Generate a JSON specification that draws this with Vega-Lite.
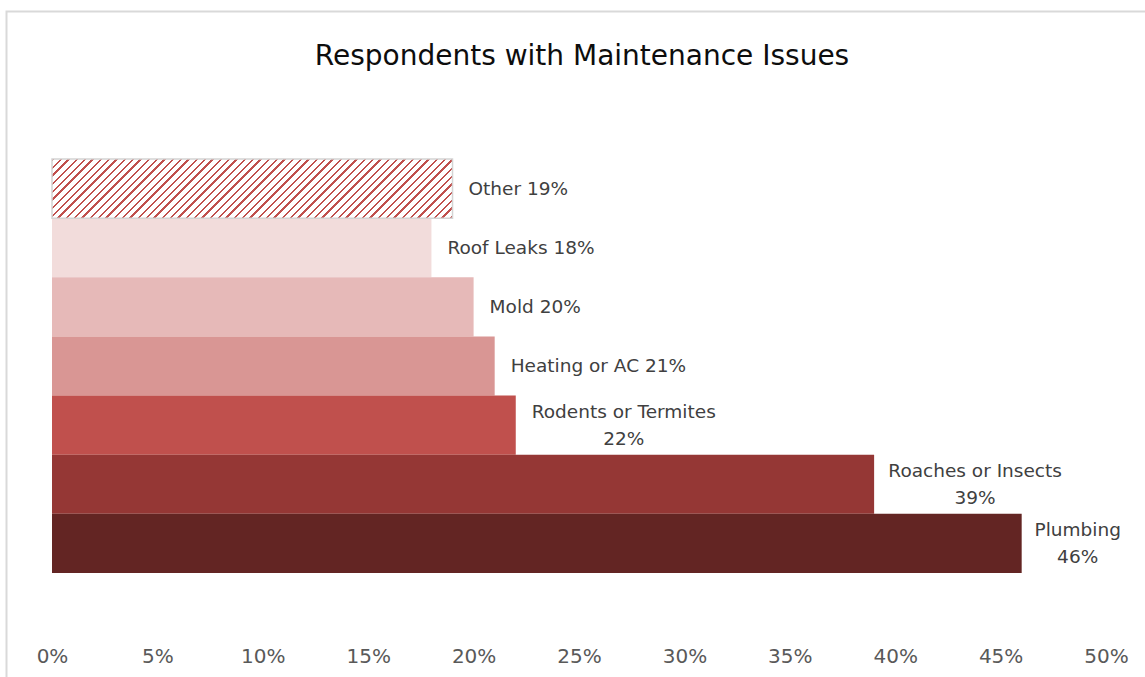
{
  "$schema": "https://vega.github.io/schema/vega-lite/v6.json",
  "width": 1140,
  "height": 667,
  "autosize": {"type": "none"},
  "padding": {"left": 6.5, "top": 11.5, "right": 0, "bottom": 0},
  "background": "#ffffff",
  "config": {"view": {"stroke": "#d9d9d9", "strokeWidth": 2}, "font": "DejaVu Sans"},
  "title": {
    "text": "Respondents with Maintenance Issues",
    "fontSize": 28,
    "font": "DejaVu Sans",
    "fontWeight": "normal",
    "color": "#0d0d0d",
    "anchor": "middle",
    "frame": "group",
    "baseline": "alphabetic",
    "offset": -81.8,
    "dx": 5.5
  },
  "data": {
    "values": [
      {"issue": "Other", "pct": 0.19, "label": "Other 19%"},
      {"issue": "Roof Leaks", "pct": 0.18, "label": "Roof Leaks 18%"},
      {"issue": "Mold", "pct": 0.20, "label": "Mold 20%"},
      {"issue": "Heating or AC", "pct": 0.21, "label": "Heating or AC 21%"},
      {"issue": "Rodents or Termites", "pct": 0.22, "label": "Rodents or Termites\n22%"},
      {"issue": "Roaches or Insects", "pct": 0.39, "label": "Roaches or Insects\n39%"},
      {"issue": "Plumbing", "pct": 0.46, "label": "Plumbing\n46%"}
    ]
  },
  "encoding": {
    "y": {
      "field": "issue",
      "type": "nominal",
      "sort": null,
      "axis": null,
      "scale": {"range": [147.5, 561.5], "paddingInner": 0, "paddingOuter": 0}
    },
    "x": {
      "field": "pct",
      "type": "quantitative",
      "scale": {"domain": [0, 0.5], "range": [45.5, 1099.5]},
      "axis": {
        "orient": "bottom",
        "values": [0, 0.05, 0.1, 0.15, 0.2, 0.25, 0.3, 0.35, 0.4, 0.45, 0.5],
        "format": ".0%",
        "domain": false,
        "ticks": false,
        "grid": false,
        "labelFontSize": 20,
        "labelColor": "#595959",
        "labelFont": "DejaVu Sans",
        "labelPadding": 0,
        "labelBaseline": "middle",
        "labelFlush": false,
        "labelOverlap": false,
        "offset": -22.5,
        "title": null
      }
    }
  },
  "layer": [
    {
      "mark": {"type": "bar"},
      "encoding": {
        "color": {
          "field": "issue",
          "type": "nominal",
          "legend": null,
          "scale": {
            "domain": ["Other", "Roof Leaks", "Mold", "Heating or AC", "Rodents or Termites", "Roaches or Insects", "Plumbing"],
            "range": ["#ffffff", "#f2dcdb", "#e6b9b8", "#d99694", "#c0504d", "#953735", "#632523"]
          }
        }
      }
    },
    {
      "transform": [{"filter": "datum.issue === 'Other'"}],
      "mark": {
        "type": "bar",
        "stroke": "#d4d4d4",
        "strokeWidth": 1.5,
        "fill": {
          "gradient": "linear",
          "x1": 0, "y1": 0, "x2": 1.1729, "y2": 0.1732,
          "stops": [
            {"offset":0,"color":"#c0504d"},{"offset":0.005,"color":"#c0504d"},{"offset":0.005,"color":"#ffffff"},{"offset":0.0167,"color":"#ffffff"},
            {"offset":0.0167,"color":"#c0504d"},{"offset":0.0217,"color":"#c0504d"},{"offset":0.0217,"color":"#ffffff"},{"offset":0.0333,"color":"#ffffff"},
            {"offset":0.0333,"color":"#c0504d"},{"offset":0.0383,"color":"#c0504d"},{"offset":0.0383,"color":"#ffffff"},{"offset":0.05,"color":"#ffffff"},
            {"offset":0.05,"color":"#c0504d"},{"offset":0.055,"color":"#c0504d"},{"offset":0.055,"color":"#ffffff"},{"offset":0.0667,"color":"#ffffff"},
            {"offset":0.0667,"color":"#c0504d"},{"offset":0.0717,"color":"#c0504d"},{"offset":0.0717,"color":"#ffffff"},{"offset":0.0833,"color":"#ffffff"},
            {"offset":0.0833,"color":"#c0504d"},{"offset":0.0883,"color":"#c0504d"},{"offset":0.0883,"color":"#ffffff"},{"offset":0.1,"color":"#ffffff"},
            {"offset":0.1,"color":"#c0504d"},{"offset":0.105,"color":"#c0504d"},{"offset":0.105,"color":"#ffffff"},{"offset":0.1167,"color":"#ffffff"},
            {"offset":0.1167,"color":"#c0504d"},{"offset":0.1217,"color":"#c0504d"},{"offset":0.1217,"color":"#ffffff"},{"offset":0.1333,"color":"#ffffff"},
            {"offset":0.1333,"color":"#c0504d"},{"offset":0.1383,"color":"#c0504d"},{"offset":0.1383,"color":"#ffffff"},{"offset":0.15,"color":"#ffffff"},
            {"offset":0.15,"color":"#c0504d"},{"offset":0.155,"color":"#c0504d"},{"offset":0.155,"color":"#ffffff"},{"offset":0.1667,"color":"#ffffff"},
            {"offset":0.1667,"color":"#c0504d"},{"offset":0.1717,"color":"#c0504d"},{"offset":0.1717,"color":"#ffffff"},{"offset":0.1833,"color":"#ffffff"},
            {"offset":0.1833,"color":"#c0504d"},{"offset":0.1883,"color":"#c0504d"},{"offset":0.1883,"color":"#ffffff"},{"offset":0.2,"color":"#ffffff"},
            {"offset":0.2,"color":"#c0504d"},{"offset":0.205,"color":"#c0504d"},{"offset":0.205,"color":"#ffffff"},{"offset":0.2167,"color":"#ffffff"},
            {"offset":0.2167,"color":"#c0504d"},{"offset":0.2217,"color":"#c0504d"},{"offset":0.2217,"color":"#ffffff"},{"offset":0.2333,"color":"#ffffff"},
            {"offset":0.2333,"color":"#c0504d"},{"offset":0.2383,"color":"#c0504d"},{"offset":0.2383,"color":"#ffffff"},{"offset":0.25,"color":"#ffffff"},
            {"offset":0.25,"color":"#c0504d"},{"offset":0.255,"color":"#c0504d"},{"offset":0.255,"color":"#ffffff"},{"offset":0.2667,"color":"#ffffff"},
            {"offset":0.2667,"color":"#c0504d"},{"offset":0.2717,"color":"#c0504d"},{"offset":0.2717,"color":"#ffffff"},{"offset":0.2833,"color":"#ffffff"},
            {"offset":0.2833,"color":"#c0504d"},{"offset":0.2883,"color":"#c0504d"},{"offset":0.2883,"color":"#ffffff"},{"offset":0.3,"color":"#ffffff"},
            {"offset":0.3,"color":"#c0504d"},{"offset":0.305,"color":"#c0504d"},{"offset":0.305,"color":"#ffffff"},{"offset":0.3167,"color":"#ffffff"},
            {"offset":0.3167,"color":"#c0504d"},{"offset":0.3217,"color":"#c0504d"},{"offset":0.3217,"color":"#ffffff"},{"offset":0.3333,"color":"#ffffff"},
            {"offset":0.3333,"color":"#c0504d"},{"offset":0.3383,"color":"#c0504d"},{"offset":0.3383,"color":"#ffffff"},{"offset":0.35,"color":"#ffffff"},
            {"offset":0.35,"color":"#c0504d"},{"offset":0.355,"color":"#c0504d"},{"offset":0.355,"color":"#ffffff"},{"offset":0.3667,"color":"#ffffff"},
            {"offset":0.3667,"color":"#c0504d"},{"offset":0.3717,"color":"#c0504d"},{"offset":0.3717,"color":"#ffffff"},{"offset":0.3833,"color":"#ffffff"},
            {"offset":0.3833,"color":"#c0504d"},{"offset":0.3883,"color":"#c0504d"},{"offset":0.3883,"color":"#ffffff"},{"offset":0.4,"color":"#ffffff"},
            {"offset":0.4,"color":"#c0504d"},{"offset":0.405,"color":"#c0504d"},{"offset":0.405,"color":"#ffffff"},{"offset":0.4167,"color":"#ffffff"},
            {"offset":0.4167,"color":"#c0504d"},{"offset":0.4217,"color":"#c0504d"},{"offset":0.4217,"color":"#ffffff"},{"offset":0.4333,"color":"#ffffff"},
            {"offset":0.4333,"color":"#c0504d"},{"offset":0.4383,"color":"#c0504d"},{"offset":0.4383,"color":"#ffffff"},{"offset":0.45,"color":"#ffffff"},
            {"offset":0.45,"color":"#c0504d"},{"offset":0.455,"color":"#c0504d"},{"offset":0.455,"color":"#ffffff"},{"offset":0.4667,"color":"#ffffff"},
            {"offset":0.4667,"color":"#c0504d"},{"offset":0.4717,"color":"#c0504d"},{"offset":0.4717,"color":"#ffffff"},{"offset":0.4833,"color":"#ffffff"},
            {"offset":0.4833,"color":"#c0504d"},{"offset":0.4883,"color":"#c0504d"},{"offset":0.4883,"color":"#ffffff"},{"offset":0.5,"color":"#ffffff"},
            {"offset":0.5,"color":"#c0504d"},{"offset":0.505,"color":"#c0504d"},{"offset":0.505,"color":"#ffffff"},{"offset":0.5167,"color":"#ffffff"},
            {"offset":0.5167,"color":"#c0504d"},{"offset":0.5217,"color":"#c0504d"},{"offset":0.5217,"color":"#ffffff"},{"offset":0.5333,"color":"#ffffff"},
            {"offset":0.5333,"color":"#c0504d"},{"offset":0.5383,"color":"#c0504d"},{"offset":0.5383,"color":"#ffffff"},{"offset":0.55,"color":"#ffffff"},
            {"offset":0.55,"color":"#c0504d"},{"offset":0.555,"color":"#c0504d"},{"offset":0.555,"color":"#ffffff"},{"offset":0.5667,"color":"#ffffff"},
            {"offset":0.5667,"color":"#c0504d"},{"offset":0.5717,"color":"#c0504d"},{"offset":0.5717,"color":"#ffffff"},{"offset":0.5833,"color":"#ffffff"},
            {"offset":0.5833,"color":"#c0504d"},{"offset":0.5883,"color":"#c0504d"},{"offset":0.5883,"color":"#ffffff"},{"offset":0.6,"color":"#ffffff"},
            {"offset":0.6,"color":"#c0504d"},{"offset":0.605,"color":"#c0504d"},{"offset":0.605,"color":"#ffffff"},{"offset":0.6167,"color":"#ffffff"},
            {"offset":0.6167,"color":"#c0504d"},{"offset":0.6217,"color":"#c0504d"},{"offset":0.6217,"color":"#ffffff"},{"offset":0.6333,"color":"#ffffff"},
            {"offset":0.6333,"color":"#c0504d"},{"offset":0.6383,"color":"#c0504d"},{"offset":0.6383,"color":"#ffffff"},{"offset":0.65,"color":"#ffffff"},
            {"offset":0.65,"color":"#c0504d"},{"offset":0.655,"color":"#c0504d"},{"offset":0.655,"color":"#ffffff"},{"offset":0.6667,"color":"#ffffff"},
            {"offset":0.6667,"color":"#c0504d"},{"offset":0.6717,"color":"#c0504d"},{"offset":0.6717,"color":"#ffffff"},{"offset":0.6833,"color":"#ffffff"},
            {"offset":0.6833,"color":"#c0504d"},{"offset":0.6883,"color":"#c0504d"},{"offset":0.6883,"color":"#ffffff"},{"offset":0.7,"color":"#ffffff"},
            {"offset":0.7,"color":"#c0504d"},{"offset":0.705,"color":"#c0504d"},{"offset":0.705,"color":"#ffffff"},{"offset":0.7167,"color":"#ffffff"},
            {"offset":0.7167,"color":"#c0504d"},{"offset":0.7217,"color":"#c0504d"},{"offset":0.7217,"color":"#ffffff"},{"offset":0.7333,"color":"#ffffff"},
            {"offset":0.7333,"color":"#c0504d"},{"offset":0.7383,"color":"#c0504d"},{"offset":0.7383,"color":"#ffffff"},{"offset":0.75,"color":"#ffffff"},
            {"offset":0.75,"color":"#c0504d"},{"offset":0.755,"color":"#c0504d"},{"offset":0.755,"color":"#ffffff"},{"offset":0.7667,"color":"#ffffff"},
            {"offset":0.7667,"color":"#c0504d"},{"offset":0.7717,"color":"#c0504d"},{"offset":0.7717,"color":"#ffffff"},{"offset":0.7833,"color":"#ffffff"},
            {"offset":0.7833,"color":"#c0504d"},{"offset":0.7883,"color":"#c0504d"},{"offset":0.7883,"color":"#ffffff"},{"offset":0.8,"color":"#ffffff"},
            {"offset":0.8,"color":"#c0504d"},{"offset":0.805,"color":"#c0504d"},{"offset":0.805,"color":"#ffffff"},{"offset":0.8167,"color":"#ffffff"},
            {"offset":0.8167,"color":"#c0504d"},{"offset":0.8217,"color":"#c0504d"},{"offset":0.8217,"color":"#ffffff"},{"offset":0.8333,"color":"#ffffff"},
            {"offset":0.8333,"color":"#c0504d"},{"offset":0.8383,"color":"#c0504d"},{"offset":0.8383,"color":"#ffffff"},{"offset":0.85,"color":"#ffffff"},
            {"offset":0.85,"color":"#c0504d"},{"offset":0.855,"color":"#c0504d"},{"offset":0.855,"color":"#ffffff"},{"offset":0.8667,"color":"#ffffff"},
            {"offset":0.8667,"color":"#c0504d"},{"offset":0.8717,"color":"#c0504d"},{"offset":0.8717,"color":"#ffffff"},{"offset":0.8833,"color":"#ffffff"},
            {"offset":0.8833,"color":"#c0504d"},{"offset":0.8883,"color":"#c0504d"},{"offset":0.8883,"color":"#ffffff"},{"offset":0.9,"color":"#ffffff"},
            {"offset":0.9,"color":"#c0504d"},{"offset":0.905,"color":"#c0504d"},{"offset":0.905,"color":"#ffffff"},{"offset":0.9167,"color":"#ffffff"},
            {"offset":0.9167,"color":"#c0504d"},{"offset":0.9217,"color":"#c0504d"},{"offset":0.9217,"color":"#ffffff"},{"offset":0.9333,"color":"#ffffff"},
            {"offset":0.9333,"color":"#c0504d"},{"offset":0.9383,"color":"#c0504d"},{"offset":0.9383,"color":"#ffffff"},{"offset":0.95,"color":"#ffffff"},
            {"offset":0.95,"color":"#c0504d"},{"offset":0.955,"color":"#c0504d"},{"offset":0.955,"color":"#ffffff"},{"offset":0.9667,"color":"#ffffff"},
            {"offset":0.9667,"color":"#c0504d"},{"offset":0.9717,"color":"#c0504d"},{"offset":0.9717,"color":"#ffffff"},{"offset":0.9833,"color":"#ffffff"},
            {"offset":0.9833,"color":"#c0504d"},{"offset":0.9883,"color":"#c0504d"},{"offset":0.9883,"color":"#ffffff"},{"offset":1,"color":"#ffffff"}
          ]
        }
      }
    },
    {
      "transform": [{"filter": {"field": "issue", "oneOf": ["Other", "Roof Leaks", "Mold", "Heating or AC"]}}],
      "mark": {"type": "text", "align": "left", "baseline": "middle", "dx": 16, "fontSize": 18.5, "color": "#404040", "font": "DejaVu Sans"},
      "encoding": {"text": {"field": "label", "type": "nominal"}}
    },
    {
      "transform": [{"filter": "datum.issue === 'Rodents or Termites'"}],
      "mark": {"type": "text", "align": "center", "baseline": "middle", "dx": 108, "dy": -13.5, "lineBreak": "\n", "lineHeight": 27, "fontSize": 18.5, "color": "#404040", "font": "DejaVu Sans"},
      "encoding": {"text": {"field": "label", "type": "nominal"}}
    },
    {
      "transform": [{"filter": "datum.issue === 'Roaches or Insects'"}],
      "mark": {"type": "text", "align": "center", "baseline": "middle", "dx": 101, "dy": -13.5, "lineBreak": "\n", "lineHeight": 27, "fontSize": 18.5, "color": "#404040", "font": "DejaVu Sans"},
      "encoding": {"text": {"field": "label", "type": "nominal"}}
    },
    {
      "transform": [{"filter": "datum.issue === 'Plumbing'"}],
      "mark": {"type": "text", "align": "center", "baseline": "middle", "dx": 56, "dy": -13.5, "lineBreak": "\n", "lineHeight": 27, "fontSize": 18.5, "color": "#404040", "font": "DejaVu Sans"},
      "encoding": {"text": {"field": "label", "type": "nominal"}}
    }
  ]
}
